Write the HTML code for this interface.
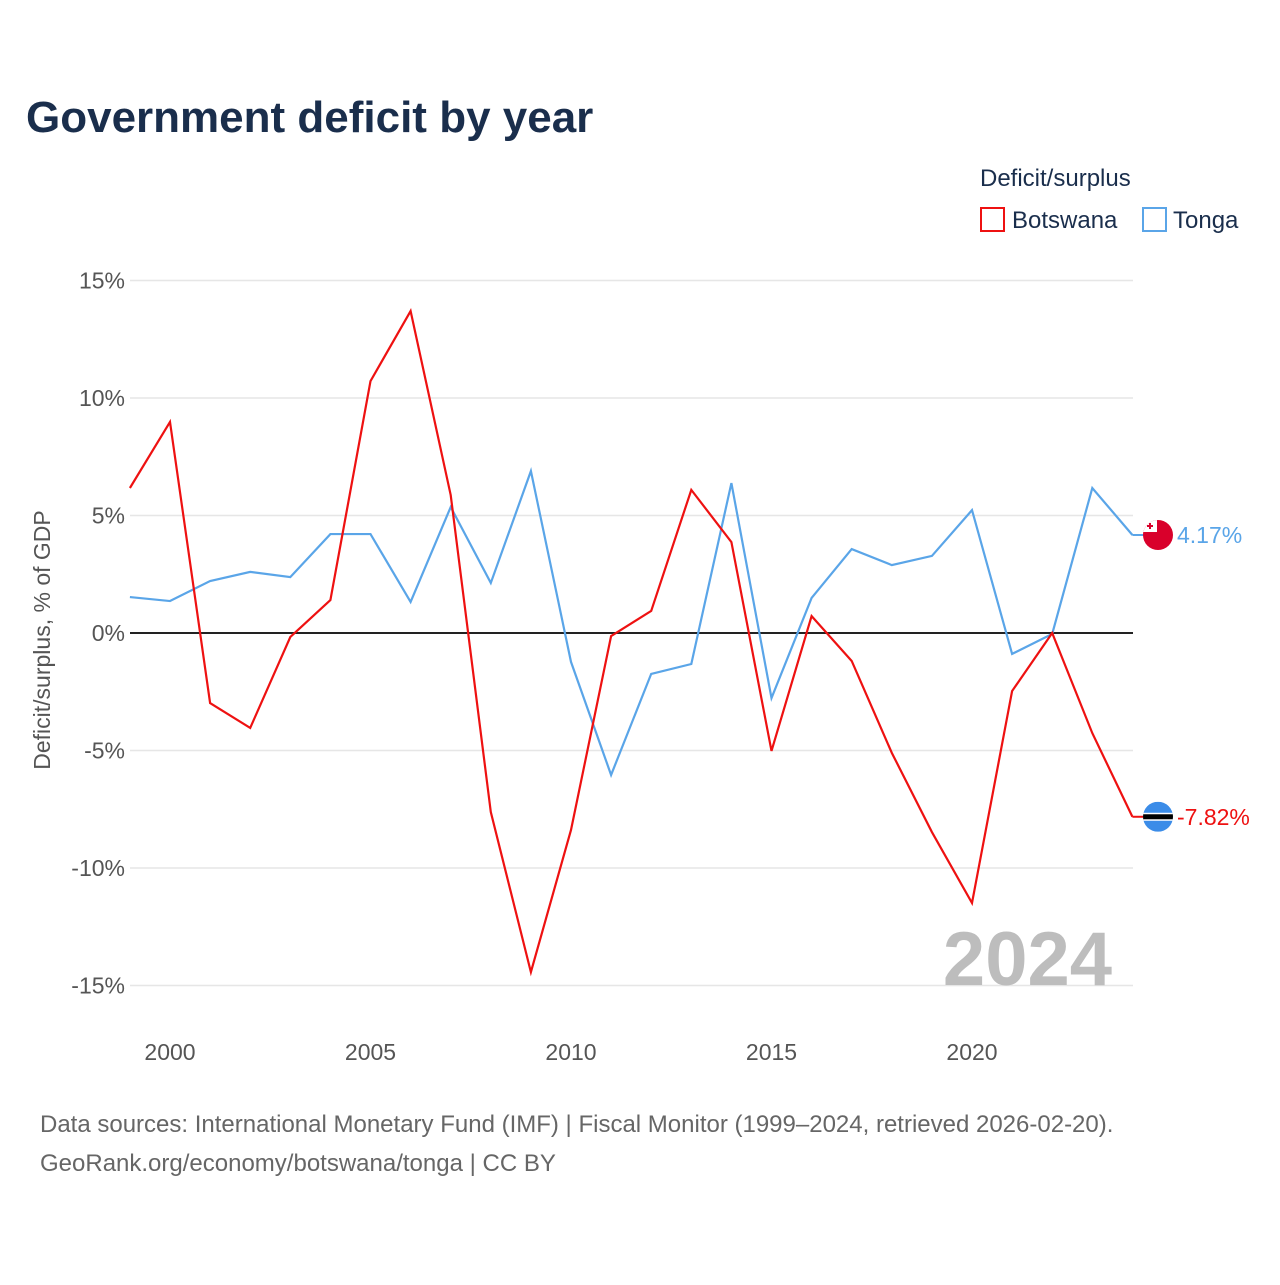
<!DOCTYPE html>
<html><head><meta charset="utf-8"><style>
body{margin:0;background:#fff;font-family:"Liberation Sans",sans-serif;}
svg text{font-family:"Liberation Sans",sans-serif;}
</style></head><body>
<svg id="chart" width="1280" height="1280" viewBox="0 0 1280 1280">
<text x="26" y="132" font-size="44" font-weight="bold" fill="#1a2e4c">Government deficit by year</text>
<g>
<text x="980" y="186" font-size="24" fill="#1a2e4c">Deficit/surplus</text>
<rect x="981" y="208" width="23" height="23" fill="none" stroke="#ee1111" stroke-width="2"/>
<text x="1012" y="228" font-size="24" fill="#1a2e4c">Botswana</text>
<rect x="1143" y="208" width="23" height="23" fill="none" stroke="#5aa5e8" stroke-width="2"/>
<text x="1173" y="228" font-size="24" fill="#1a2e4c">Tonga</text>
</g>
<text transform="translate(50,640) rotate(-90)" text-anchor="middle" font-size="23" fill="#555">Deficit/surplus, % of GDP</text>
<defs id="defs"></defs>
<g id="grid"></g><g id="series"></g>
<text x="1112" y="985" text-anchor="end" font-size="76" font-weight="bold" fill="#bdbdbd">2024</text>
<text x="40" y="1132" font-size="24" fill="#666">Data sources: International Monetary Fund (IMF) | Fiscal Monitor (1999–2024, retrieved 2026-02-20).</text>
<text x="40" y="1171" font-size="24" fill="#666">GeoRank.org/economy/botswana/tonga | CC BY</text>
</svg>
<script>
const years=[1999,2000,2001,2002,2003,2004,2005,2006,2007,2008,2009,2010,2011,2012,2013,2014,2015,2016,2017,2018,2019,2020,2021,2022,2023,2024];
const botswana=[6.17,8.98,-2.98,-4.04,-0.17,1.4,10.72,13.7,5.87,-7.62,-14.43,-8.38,-0.13,0.94,6.09,3.87,-5.02,0.72,-1.19,-5.1,-8.47,-11.49,-2.47,0,-4.26,-7.82];
const tonga=[1.53,1.36,2.21,2.6,2.38,4.21,4.21,1.32,5.36,2.13,6.89,-1.23,-6.04,-1.74,-1.32,6.38,-2.77,1.49,3.57,2.89,3.28,5.23,-0.89,-0.04,6.17,4.17];
const yTicks=[15,10,5,0,-5,-10,-15];
const xTicks=[2000,2005,2010,2015,2020];
const NS="http://www.w3.org/2000/svg";
const X=y=>170+(y-2000)*40.1;
const Y=v=>633-v*23.5;
function mk(t,a,p){const e=document.createElementNS(NS,t);for(const k in a)e.setAttribute(k,a[k]);p.appendChild(e);return e;}
const g=document.getElementById('grid'),s=document.getElementById('series'),defs=document.getElementById('defs');
yTicks.forEach(v=>{
 const l=mk('line',{x1:130,x2:1133,y1:Y(v),y2:Y(v),stroke:v===0?'#222':'#e6e6e6','stroke-width':v===0?2:1.5},g);
 
 
 const t=mk('text',{x:125,y:Y(v)+8,'text-anchor':'end','font-size':23,fill:'#555'},g);
 t.textContent=v+'%';
 
 
});
xTicks.forEach(v=>{
 const t=mk('text',{x:X(v),y:1060,'text-anchor':'middle','font-size':23,fill:'#555'},g);
 t.textContent=v;
 
 
});
function line(d,c,name){
 const p=mk('polyline',{points:d.map((v,i)=>X(years[i])+','+Y(v)).join(' '),fill:'none',stroke:c,'stroke-width':2.2},s);
 
 
 const last=d[d.length-1],lx=X(years[years.length-1]);
 mk('line',{x1:lx,x2:1145,y1:Y(last),y2:Y(last),stroke:c,'stroke-width':2},s);
 return last;
}
const lt=line(tonga,'#5aa5e8','line-tonga');
const lb=line(botswana,'#ee1111','line-botswana');
const ct=mk('clipPath',{id:'cpT'},defs);mk('circle',{cx:1158,cy:Y(lt),r:15},ct);
const cb=mk('clipPath',{id:'cpB'},defs);mk('circle',{cx:1158,cy:Y(lb),r:15},cb);
const ft=mk('g',{'clip-path':'url(#cpT)'},s);


mk('rect',{x:1143,y:Y(lt)-15,width:30,height:30,fill:'#d9002b'},ft);
mk('rect',{x:1143,y:Y(lt)-15,width:14,height:12,fill:'#fff'},ft);
mk('rect',{x:1149,y:Y(lt)-12,width:2,height:6,fill:'#d9002b'},ft);
mk('rect',{x:1147,y:Y(lt)-10,width:6,height:2,fill:'#d9002b'},ft);
const fb=mk('g',{'clip-path':'url(#cpB)'},s);


mk('rect',{x:1143,y:Y(lb)-15,width:30,height:30,fill:'#3b8ce8'},fb);
mk('rect',{x:1143,y:Y(lb)-4,width:30,height:8,fill:'#fff'},fb);
mk('rect',{x:1143,y:Y(lb)-2.5,width:30,height:5,fill:'#000'},fb);
const vt=mk('text',{x:1177,y:Y(lt)+8,'font-size':23,fill:'#5aa5e8'},s);
vt.textContent=lt.toFixed(2)+'%';


const vb=mk('text',{x:1177,y:Y(lb)+8,'font-size':23,fill:'#ee1111'},s);
vb.textContent=lb.toFixed(2)+'%';


</script>
</body></html>
